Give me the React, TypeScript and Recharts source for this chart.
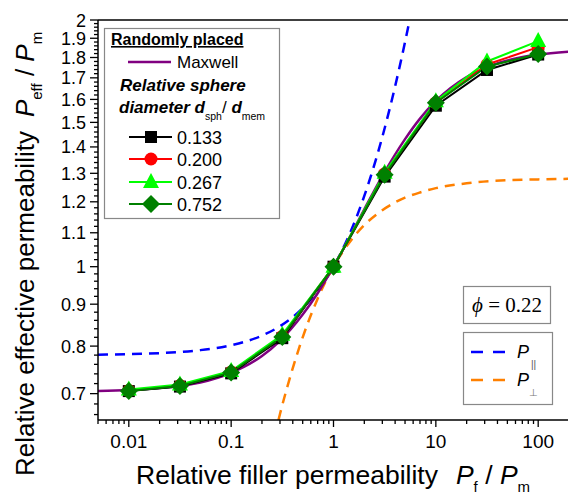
import React from 'react';
import { ComposedChart, Line, XAxis, YAxis, Customized } from 'recharts';

// measured filler permeability ratios
const xPoints = [0.01, 0.0316, 0.1, 0.316, 1, 3.16, 10, 31.6, 100];
const d133 = [0.705, 0.714, 0.741, 0.818, 1.0, 1.288, 1.572, 1.738, 1.815];
const d200 = [0.706, 0.716, 0.744, 0.822, 1.0, 1.298, 1.585, 1.765, 1.853];
const d267 = [0.708, 0.718, 0.746, 0.826, 1.0, 1.302, 1.592, 1.78, 1.885];
const d752 = [0.705, 0.715, 0.743, 0.821, 1.0, 1.295, 1.585, 1.755, 1.818];

// theory curves
const maxwellX = [0.005, 0.01, 0.02, 0.05, 0.1, 0.2, 0.3, 0.5, 0.7, 1, 1.5, 2, 3, 5, 7, 10, 20, 30, 50, 100, 200];
const maxwellY = [0.705, 0.707, 0.711, 0.722, 0.742, 0.778, 0.812, 0.874, 0.928, 1.0, 1.097, 1.175, 1.29, 1.431, 1.516, 1.593, 1.704, 1.747, 1.785, 1.815, 1.83];
const parX = [0.005, 0.01, 0.05, 0.1, 0.2, 0.3, 0.5, 0.7, 1, 1.5, 2, 3, 4, 5, 5.6];
const parY = [0.781, 0.782, 0.791, 0.802, 0.824, 0.846, 0.89, 0.934, 1.0, 1.11, 1.22, 1.44, 1.66, 1.88, 2.012];
const perpX = [0.29, 0.3, 0.4, 0.5, 0.7, 1, 1.5, 2, 3, 5, 7, 10, 20, 50, 100, 200];
const perpY = [0.65, 0.661, 0.752, 0.82, 0.914, 1.0, 1.079, 1.124, 1.172, 1.214, 1.232, 1.247, 1.264, 1.275, 1.278, 1.28];

const xMajor = [0.01, 0.1, 1, 10, 100];
const xMinor = [0.005, 0.006, 0.007, 0.008, 0.009, 0.02, 0.03, 0.04, 0.05, 0.06, 0.07, 0.08, 0.09,
  0.2, 0.3, 0.4, 0.5, 0.6, 0.7, 0.8, 0.9, 2, 3, 4, 5, 6, 7, 8, 9, 20, 30, 40, 50, 60, 70, 80, 90, 200];
const yMajor = [0.7, 0.8, 0.9, 1, 1.1, 1.2, 1.3, 1.4, 1.5, 1.6, 1.7, 1.8, 1.9, 2];
const yMinor: number[] = [];
for (let k = 33; k <= 99; k++) {
  if (k % 5 !== 0) yMinor.push(k / 50);
}

const toRows = (xs: number[], ys: number[]) => xs.map((x, i) => ({ x, y: ys[i] }));

const sans = 'Liberation Sans, Arial, sans-serif';

const XTick = (props: any) => {
  const { x, y, payload } = props;
  const major = xMajor.includes(payload.value);
  return (
    <g>
      <line x1={x} x2={x} y1={y} y2={y + (major ? 7 : 4)} stroke="#000" strokeWidth={1.3} />
      {major && (
        <text x={x} y={y + 28} textAnchor="middle" fontFamily={sans} fontSize={19} fill="#000">
          {payload.value}
        </text>
      )}
    </g>
  );
};

const YTick = (props: any) => {
  const { x, y, payload } = props;
  const major = yMajor.some((v) => Math.abs(v - payload.value) < 1e-6);
  return (
    <g>
      <line x1={x - (major ? 8 : 4)} x2={x} y1={y} y2={y} stroke="#000" strokeWidth={1.3} />
      {major && (
        <text x={x - 12} y={y + 6.5} textAnchor="end" fontFamily={sans} fontSize={18} fill="#000">
          {payload.value}
        </text>
      )}
    </g>
  );
};

const square = (color: string) => (p: any) =>
  p.cx == null ? <g key={p.index} /> : <rect key={p.index} x={p.cx - 6} y={p.cy - 6} width={12} height={12} fill={color} />;
const circle = (color: string) => (p: any) =>
  p.cx == null ? <g key={p.index} /> : <circle key={p.index} cx={p.cx} cy={p.cy} r={6.5} fill={color} />;
const triangle = (color: string) => (p: any) =>
  p.cx == null ? <g key={p.index} /> : (
    <polygon key={p.index} points={`${p.cx},${p.cy - 9} ${p.cx + 8},${p.cy + 6} ${p.cx - 8},${p.cy + 6}`} fill={color} />
  );
const diamond = (color: string) => (p: any) =>
  p.cx == null ? <g key={p.index} /> : (
    <polygon key={p.index} points={`${p.cx},${p.cy - 9} ${p.cx + 9},${p.cy} ${p.cx},${p.cy + 9} ${p.cx - 9},${p.cy}`} fill={color} />
  );

const sizes = [
  { label: '0.133', color: '#000000', mark: 'square' },
  { label: '0.200', color: '#ff0000', mark: 'circle' },
  { label: '0.267', color: '#00ff00', mark: 'triangle' },
  { label: '0.752', color: '#008000', mark: 'diamond' },
];

const Overlay = () => {
  const rowY = [137, 159, 182, 204];
  return (
    <g>
      {/* frame top */}
      <line x1={98} x2={570} y1={20} y2={20} stroke="#000" strokeWidth={1.5} />

      {/* legend 1 */}
      <rect x={104.5} y={28.5} width={175} height={190} fill="#fff" stroke="#888" strokeWidth={1.2} />
      <text x={111} y={45} fontFamily={sans} fontSize={16} fontWeight="bold" textDecoration="underline" fill="#000">
        Randomly placed
      </text>
      <line x1={128} x2={171} y1={62} y2={62} stroke="#800080" strokeWidth={2.5} />
      <text x={177} y={68} fontFamily={sans} fontSize={17} fill="#000">Maxwell</text>
      <text x={120} y={91} fontFamily={sans} fontSize={17} fontWeight="bold" fontStyle="italic" fill="#000">
        Relative sphere
      </text>
      <text x={119} y={113} fontFamily={sans} fontSize={17} fill="#000">
        <tspan fontWeight="bold" fontStyle="italic">diameter d</tspan>
        <tspan fontSize={10.5} dy={7}>sph</tspan>
        <tspan dy={-7}>/ </tspan>
        <tspan fontWeight="bold" fontStyle="italic">d</tspan>
        <tspan fontSize={10.5} dy={7}>mem</tspan>
      </text>
      {sizes.map((s, i) => {
        const cy = rowY[i];
        const cx = 151;
        let m: React.ReactNode = null;
        if (s.mark === 'square') m = <rect x={cx - 6} y={cy - 6} width={12} height={12} fill={s.color} />;
        if (s.mark === 'circle') m = <circle cx={cx} cy={cy} r={6.5} fill={s.color} />;
        if (s.mark === 'triangle')
          m = <polygon points={`${cx},${cy - 9} ${cx + 8},${cy + 6} ${cx - 8},${cy + 6}`} fill={s.color} />;
        if (s.mark === 'diamond')
          m = <polygon points={`${cx},${cy - 9} ${cx + 9},${cy} ${cx},${cy + 9} ${cx - 9},${cy}`} fill={s.color} />;
        return (
          <g key={s.label}>
            <line x1={129} x2={172} y1={cy} y2={cy} stroke={s.color} strokeWidth={2} />
            {m}
            <text x={177} y={cy + 7} fontFamily={sans} fontSize={18} fill="#000">{s.label}</text>
          </g>
        );
      })}

      {/* phi box */}
      <rect x={463.5} y={286.5} width={87} height={37} fill="#fff" stroke="#888" strokeWidth={1.2} />
      <text x={507} y={312} textAnchor="middle" fontFamily="Liberation Serif, Times New Roman, serif" fontSize={21} fill="#000">
        <tspan fontStyle="italic">ϕ</tspan> = 0.22
      </text>

      {/* P legend */}
      <rect x={463.5} y={332.5} width={89} height={72} fill="#fff" stroke="#888" strokeWidth={1.2} />
      <line x1={471} x2={506} y1={352} y2={352} stroke="#0000ff" strokeWidth={2.5} strokeDasharray="12 10" />
      <line x1={471} x2={506} y1={380} y2={380} stroke="#ff8000" strokeWidth={2.5} strokeDasharray="12 10" />
      <text x={517} y={358} fontFamily={sans} fontSize={18} fontStyle="italic" fill="#000">P</text>
      <text x={531} y={368} fontFamily={sans} fontSize={10} fill="#555">||</text>
      <text x={517} y={386} fontFamily={sans} fontSize={18} fontStyle="italic" fill="#000">P</text>
      <text x={529} y={396} fontFamily={sans} fontSize={10} fill="#777">⊥</text>

      {/* axis titles */}
      <text x={136} y={484} fontFamily={sans} fontSize={26.5} fill="#000">
        Relative filler permeability
        <tspan dx={18} fontStyle="italic">P</tspan>
        <tspan fontSize={15} dy={8}>f</tspan>
        <tspan dy={-8}> / </tspan>
        <tspan fontStyle="italic">P</tspan>
        <tspan fontSize={15} dy={8}>m</tspan>
      </text>
      <text x={34} y={476} transform="rotate(-90, 34, 476)" fontFamily={sans} fontSize={26} fill="#000">
        Relative effective permeability
        <tspan dx={14} fontStyle="italic">P</tspan>
        <tspan fontSize={15} dy={8}>eff</tspan>
        <tspan dy={-8}> / </tspan>
        <tspan fontStyle="italic">P</tspan>
        <tspan fontSize={15} dy={8}>m</tspan>
      </text>
    </g>
  );
};

export default function App() {
  return (
    <div style={{ position: 'absolute', left: 0, top: 0, width: 568, height: 500, overflow: 'hidden', background: '#fff' }}>
      <ComposedChart width={580} height={500} margin={{ top: 20, right: 11, bottom: 0, left: 0 }}>
        <XAxis
          type="number"
          dataKey="x"
          scale="log"
          domain={[0.005, 200]}
          allowDataOverflow
          ticks={[...xMajor, ...xMinor].sort((a, b) => a - b)}
          interval={0}
          tick={XTick}
          tickLine={false}
          tickSize={0}
          tickMargin={0}
          height={80}
          axisLine={{ stroke: '#000', strokeWidth: 1.5 }}
        />
        <YAxis
          type="number"
          dataKey="y"
          scale="log"
          domain={[0.65, 2]}
          allowDataOverflow
          ticks={[...yMajor, ...yMinor].sort((a, b) => a - b)}
          interval={0}
          tick={YTick}
          tickLine={false}
          tickSize={0}
          tickMargin={0}
          width={98}
          axisLine={{ stroke: '#000', strokeWidth: 1.5 }}
        />
        <Line data={toRows(parX, parY)} dataKey="y" type="monotone" stroke="#0000ff" strokeWidth={2.5}
          strokeDasharray="10 7" dot={false} isAnimationActive={false} />
        <Line data={toRows(perpX, perpY)} dataKey="y" type="monotone" stroke="#ff8000" strokeWidth={2.5}
          strokeDasharray="10 7" dot={false} isAnimationActive={false} />
        <Line data={toRows(maxwellX, maxwellY)} dataKey="y" type="monotone" stroke="#800080" strokeWidth={2.5}
          dot={false} isAnimationActive={false} />
        <Line data={toRows(xPoints, d133)} dataKey="y" type="linear" stroke="#000000" strokeWidth={2}
          dot={square('#000000')} isAnimationActive={false} />
        <Line data={toRows(xPoints, d200)} dataKey="y" type="linear" stroke="#ff0000" strokeWidth={2}
          dot={circle('#ff0000')} isAnimationActive={false} />
        <Line data={toRows(xPoints, d267)} dataKey="y" type="linear" stroke="#00ff00" strokeWidth={2}
          dot={triangle('#00ff00')} isAnimationActive={false} />
        <Line data={toRows(xPoints, d752)} dataKey="y" type="linear" stroke="#008000" strokeWidth={2}
          dot={diamond('#008000')} isAnimationActive={false} />
        <Customized component={Overlay} />
      </ComposedChart>
    </div>
  );
}
